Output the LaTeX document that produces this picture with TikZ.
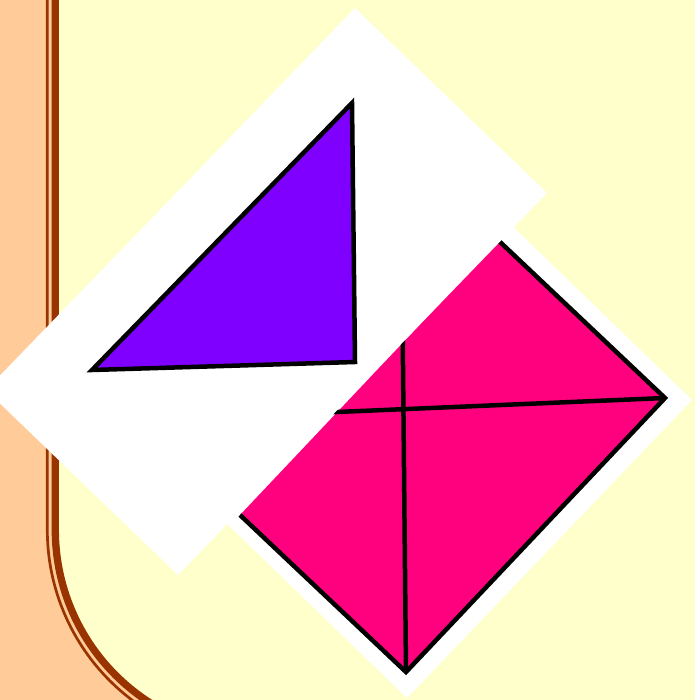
\documentclass[tikz,border=0pt]{standalone}
\definecolor{bgyellow}{HTML}{FFFFCC}
\definecolor{peach}{HTML}{FFCC99}
\definecolor{rimbrown}{HTML}{993300}
\definecolor{pinkc}{HTML}{FF007F}
\definecolor{purplec}{HTML}{7F00FF}
\begin{document}
\begin{tikzpicture}[x=1pt,y=-1pt,
  outline/.style={draw=black,line width=4.5pt,line join=miter},
  rim/.style={draw=rimbrown}]
\useasboundingbox (0,0) rectangle (695,700);
\clip (0,0) rectangle (695,700);
\fill[bgyellow] (0,0) rectangle (695,700);
% left strip
\fill[peach] (-5,-5) -- (55.3,-5) -- (55.3,530)
  -- plot[domain=0:65,variable=\t,samples=50] ({260.3-205*cos(\t)},{530+205*sin(\t)})
  -- (-5,716) -- cycle;
\draw[rim,line width=7.3pt] (55.3,-5) -- (55.3,530)
  -- plot[domain=0:65,variable=\t,samples=50] ({260.3-205*cos(\t)},{530+205*sin(\t)});
\draw[rim,line width=2.7pt] (47.3,-5) -- (47.3,530)
  -- plot[domain=0:65,variable=\t,samples=50] ({260.3-213*cos(\t)},{530+213*sin(\t)});
% lower card with pink rectangle
\coordinate (wt) at (501,215);
\coordinate (wr) at (692,400);
\coordinate (wb) at (407,698);
\coordinate (wl) at (216,513);
\fill[white] (wt) -- (wr) -- (wb) -- (wl) -- cycle;
\coordinate (pt) at (499,241);
\coordinate (pr) at (665,398);
\coordinate (pb) at (406,672);
\coordinate (pl) at (240,515);
\coordinate (hx) at (330,412.3);
\coordinate (vx) at (402.7,335);
\fill[pinkc] (pt) -- (pr) -- (pb) -- (pl) -- cycle;
\draw[outline] (pr) -- (hx);
\draw[outline] (pb) -- (vx);
\draw[outline] (pt) -- (pr) -- (pb) -- (pl);
% upper card with purple triangle
\coordinate (ct) at (355,8);
\coordinate (cr) at (547,193);
\coordinate (cb) at (178,575);
\coordinate (cl) at (-14,390);
\fill[white] (ct) -- (cr) -- (cb) -- (cl) -- cycle;
\coordinate (ta) at (352,103);
\coordinate (tb) at (355,362);
\coordinate (tc) at (92,370);
\filldraw[fill=purplec,outline] (ta) -- (tb) -- (tc) -- cycle;
\end{tikzpicture}
\end{document}
